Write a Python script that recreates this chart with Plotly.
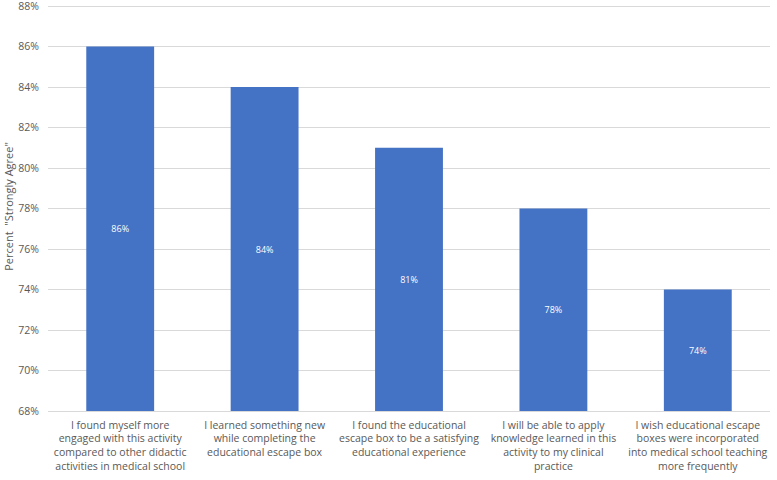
import plotly.graph_objects as go

categories = [
    "I found myself more<br>engaged with this activity<br>compared to other didactic<br>activities in medical school",
    "I learned something new<br>while completing the<br>educational escape box",
    "I found the educational<br>escape box to be a satisfying<br>educational experience",
    "I will be able to apply<br>knowledge learned in this<br>activity to my clinical<br>practice",
    "I wish educational escape<br>boxes were incorporated<br>into medical school teaching<br>more frequently",
]
values = [86, 84, 81, 78, 74]
labels = [f"{v}%" for v in values]
baseline = 68
tick_values = list(range(68, 89, 2))
tick_labels = [f"{v}%" for v in tick_values]

fig = go.Figure(go.Bar(
    x=categories, y=[v - baseline for v in values], base=baseline,
    text=labels, textposition="inside", insidetextanchor="middle",
    textfont=dict(color="white", size=9, family="Open Sans"),
    marker=dict(color="#4472C4", line_width=0),
    width=0.47,
))
fig.update_layout(
    width=777, height=480,
    margin=dict(l=48, r=7, t=2, b=69, autoexpand=False),
    paper_bgcolor="white", plot_bgcolor="white",
    font=dict(family="Open Sans", color="#595959", size=11),
    showlegend=False,
    bargap=0.53,
)
fig.update_yaxes(
    range=[68, 88.2], tickvals=tick_values, ticktext=tick_labels,
    showgrid=True, gridcolor="#D9D9D9", zeroline=False,
    automargin=False, ticklabelstandoff=8, ticklabeloverflow="allow",
    title=dict(text='Percent  "Strongly Agree"', font=dict(size=11), standoff=2),
    tickfont=dict(size=10.5),
)
fig.update_xaxes(showline=True, linecolor="#D9D9D9", tickfont=dict(size=10.5),
                 automargin=False, ticklabelstandoff=4)
fig.write_html("out.html", config={"displayModeBar": False},
               post_script="document.body.style.margin='0';document.body.style.overflow='hidden';")
